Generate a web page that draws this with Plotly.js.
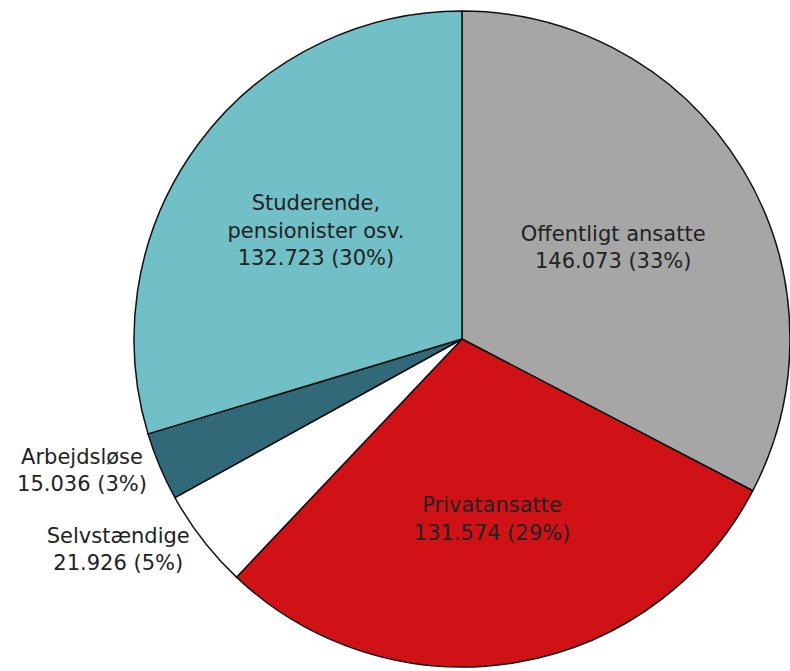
<!DOCTYPE html>
<html>
<head>
<meta charset="utf-8">
<script src="https://cdn.plot.ly/plotly-3.0.1.min.js"></script>
<style>html,body{margin:0;padding:0;background:#fff;overflow:hidden}</style>
</head>
<body>
<div id="chart" style="width:790px;height:671px"></div>
<script>
const categories = ["Offentligt ansatte", "Privatansatte", "Selvstændige", "Arbejdsløse", "Studerende,<br>pensionister osv."];
const values = [146073, 131574, 21926, 15036, 132723];
const colors = ["#a6a6a6", "#d01116", "#ffffff", "#326978", "#71bfc7"];
const positions = ["inside", "inside", "outside", "outside", "inside"];

const trace = {
  type: "pie",
  labels: categories,
  values: values,
  sort: false,
  direction: "clockwise",
  rotation: 0,
  marker: {colors: colors, line: {color: "#111", width: 1.5}},
  textposition: positions,
  insidetextorientation: "horizontal",
  texttemplate: "%{label}<br>%{value:,} (%{percent:.0%})",
  textfont: {family: "DejaVu Sans, Verdana, sans-serif", size: 21, color: "#222"},
  outsidetextfont: {family: "DejaVu Sans, Verdana, sans-serif", size: 21, color: "#222"},
  hoverinfo: "none",
  showlegend: false,
  domain: {x: [134/790, 1], y: [3/671, 661/671]}
};

Plotly.newPlot("chart", [trace], {
  width: 790, height: 671,
  margin: {l: 0, r: 0, t: 0, b: 0},
  paper_bgcolor: "#fff",
  separators: ",.",
  showlegend: false
}, {displayModeBar: false, staticPlot: true});
</script>
</body>
</html>
